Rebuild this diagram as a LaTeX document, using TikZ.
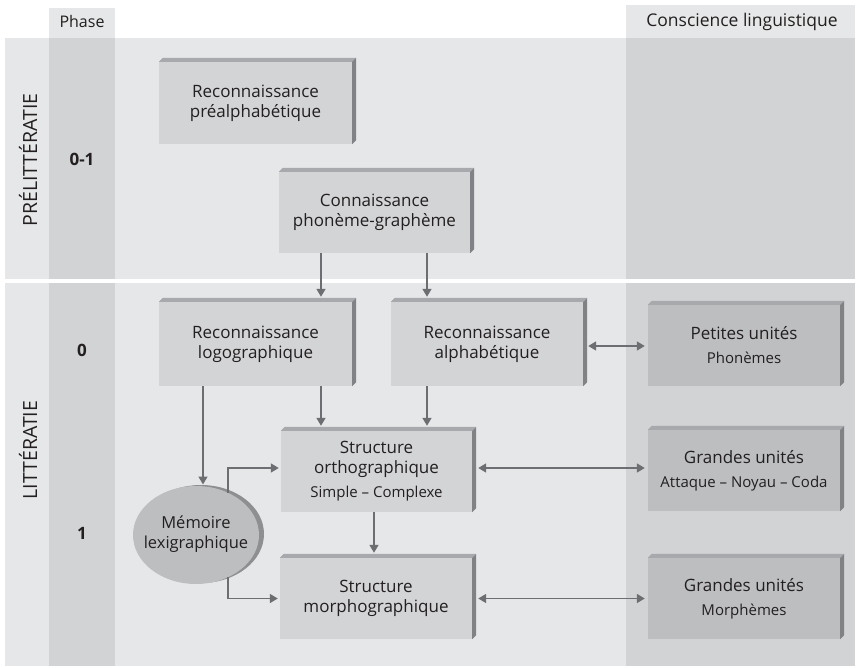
\documentclass[tikz,border=0pt]{standalone}
\usepackage{fontspec}
\setmainfont{Open Sans}
\usetikzlibrary{arrows.meta,shapes.geometric}
\definecolor{band}{HTML}{E6E7E8}
\definecolor{col}{HTML}{D1D3D4}
\definecolor{boxf}{HTML}{D3D4D6}
\definecolor{boxr}{HTML}{BCBEC0}
\definecolor{topf}{HTML}{A7A9AC}
\definecolor{sidef}{HTML}{808285}
\definecolor{arrc}{HTML}{6D6E71}
\definecolor{txt}{HTML}{231F20}
\newcommand\mainsz{\fontsize{17}{20}\selectfont}
\newcommand\subsz{\fontsize{15}{17}\selectfont}
\newcommand\boxfaces[1]{%
  \fill[topf] (#1.north west) -- ++(4,-4) -- ([shift={(4pt,4pt)}]#1.north east) -- (#1.north east) -- cycle;
  \fill[sidef] (#1.north east) -- ([shift={(4pt,4pt)}]#1.north east) -- ([shift={(4pt,4pt)}]#1.south east) -- (#1.south east) -- cycle;}
\tikzset{
  lbox/.style={fill=boxf, inner sep=0pt, align=center, text=txt, font=\mainsz},
  rbox/.style={fill=boxr, inner sep=0pt, align=center, text=txt, font=\mainsz, minimum width=192pt, minimum height=81pt},
  arr/.style={draw=arrc, line width=1.5pt, -{Triangle[length=8pt,width=9pt]}},
  darr/.style={draw=arrc, line width=1.5pt, {Triangle[length=8pt,width=9pt]}-{Triangle[length=8pt,width=9pt]}},
  lbl/.style={text=txt, inner sep=0pt}
}
\begin{document}
\begin{tikzpicture}[x=1pt,y=-1pt]
\useasboundingbox (0,0) rectangle (860,668);
% bands
\fill[band] (5,38) rectangle (855,279);
\fill[band] (5,283) rectangle (855,666);
\fill[band] (49,8) rectangle (115,38);
\fill[band] (626,5) rectangle (855,38);
\fill[col] (49,38) rectangle (115,279);
\fill[col] (49,283) rectangle (115,666);
\fill[col] (626,38) rectangle (855,279);
\fill[col] (626,283) rectangle (855,666);
% headers and side labels
\node[lbl, font=\fontsize{16}{18}\selectfont] (phase) at (82,22) {Phase};
\node[lbl, font=\fontsize{17.5}{20}\selectfont] (consc) at (742,22) {Conscience linguistique};
\node[lbl, font=\bfseries\fontsize{17}{19}\selectfont] (p01) at (82,159) {0-1};
\node[lbl, font=\bfseries\fontsize{17}{19}\selectfont] (p0) at (82,350) {0};
\node[lbl, font=\bfseries\fontsize{17}{19}\selectfont] (p1) at (82,533) {1};
\node[lbl, rotate=90, font=\fontsize{19.5}{22}\selectfont] (prelit) at (28,160) {PRÉLITTÉRATIE};
\node[lbl, rotate=90, font=\fontsize{19.5}{22}\selectfont] (lit) at (28,450) {LITTÉRATIE};
% boxes
\node[lbox, minimum width=193pt, minimum height=82pt] (prea) at (255.5,103) {Reconnaissance\\préalphabétique};
\node[lbox, minimum width=191pt, minimum height=81pt] (conn) at (374.5,212.5) {Connaissance\\phonème-graphème};
\node[lbox, minimum width=193pt, minimum height=84pt] (logo) at (255.5,344) {Reconnaissance\\logographique};
\node[lbox, minimum width=192pt, minimum height=84pt] (alpha) at (487,344) {Reconnaissance\\alphabétique};
\node[lbox, minimum width=191pt, minimum height=81pt] (ortho) at (376.5,471.5) {Structure\\orthographique\\[4pt]{\subsz Simple – Complexe}};
\node[lbox, minimum width=192pt, minimum height=81pt] (morpho) at (376,598.5) {Structure\\morphographique};
\node[rbox] (pet) at (744,345.5) {Petites unités\\[4pt]{\subsz Phonèmes}};
\node[rbox] (gr1) at (744,470.5) {Grandes unités\\[4pt]{\subsz Attaque – Noyau – Coda}};
\node[rbox] (gr2) at (744,598.5) {Grandes unités\\[4pt]{\subsz Morphèmes}};
\boxfaces{prea}\boxfaces{conn}\boxfaces{logo}\boxfaces{alpha}\boxfaces{ortho}\boxfaces{morpho}
\boxfaces{pet}\boxfaces{gr1}\boxfaces{gr2}
% ellipse
\coordinate (memc) at (196,535);
\fill[sidef!90] ([xshift=5pt,yshift=1pt]memc) ellipse [x radius=63, y radius=49];
\fill[boxr] (memc) ellipse [x radius=63, y radius=49];
\node[lbl, align=center, font=\fontsize{16.5}{19.5}\selectfont] (mem) at ([yshift=1pt]memc) {Mémoire\\lexigraphique};
% arrows
\draw[arr] ([xshift=-53.5pt]conn.south) -- ([xshift=65.5pt,yshift=5pt]logo.north);
\draw[arr] ([xshift=52.5pt]conn.south) -- ([xshift=-60pt,yshift=5pt]alpha.north);
\draw[arr] ([xshift=-52.5pt]logo.south) -- ([xshift=7pt,yshift=50.5pt]memc);
\draw[arr] ([xshift=65.5pt]logo.south) -- ([xshift=-55.5pt,yshift=5pt]ortho.north);
\draw[arr] ([xshift=-60pt]alpha.south) -- ([xshift=50.5pt,yshift=5pt]ortho.north);
\draw[arr] ([xshift=-2.5pt]ortho.south) -- ([xshift=-2pt,yshift=5pt]morpho.north);
\coordinate (m1) at ([xshift=32pt,yshift=42pt]memc);
\coordinate (m2) at ([xshift=32pt,yshift=-42pt]memc);
\coordinate (ow) at ([xshift=-2pt,yshift=3.5pt]ortho.west);
\coordinate (mw) at ([xshift=-2pt]morpho.west);
\draw[arr] (m1) |- (ow);
\draw[arr] (m2) |- (mw);
\coordinate (a1) at ([xshift=5pt,yshift=-2pt]alpha.east);
\coordinate (a2) at (a1 -| pet.west);
\draw[darr] (a1) -- ([xshift=-3pt]a2);
\coordinate (o1) at ([xshift=6pt,yshift=3.5pt]ortho.east);
\coordinate (o2) at (o1 -| gr1.west);
\draw[darr] (o1) -- ([xshift=-3pt]o2);
\coordinate (r1) at ([xshift=6pt]morpho.east);
\coordinate (r2) at (r1 -| gr2.west);
\draw[darr] (r1) -- ([xshift=-3pt]r2);
\end{tikzpicture}
\end{document}
